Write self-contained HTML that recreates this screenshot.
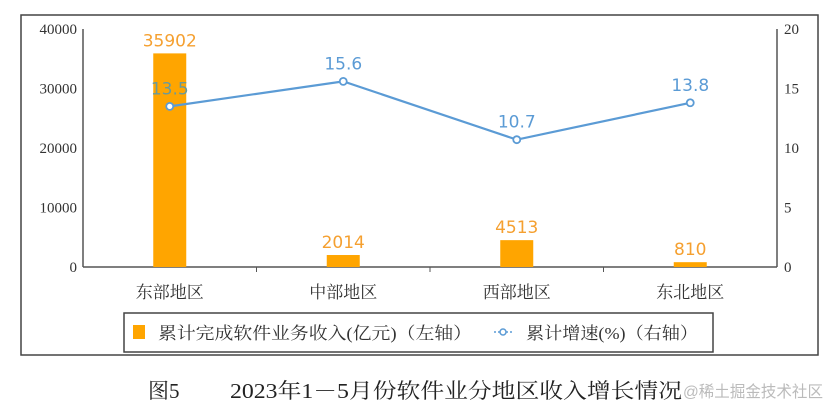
<!DOCTYPE html>
<html><head><meta charset="utf-8"><style>
body{margin:0;background:#fff;width:834px;height:414px;overflow:hidden}
svg{display:block}
</style></head><body>
<svg id="c" width="834" height="414" xmlns="http://www.w3.org/2000/svg">
<rect x="21" y="15" width="797" height="340" fill="none" stroke="#444" stroke-width="1.5"/>
<g id="g"></g>
<g>
<rect x="124" y="313" width="589" height="39" fill="#fff" stroke="#444" stroke-width="1.5"/>
<rect x="133" y="325" width="12" height="14" fill="#FFA500"/>
<text x="158" y="339" font-size="17" fill="#333" textLength="314" lengthAdjust="spacingAndGlyphs" font-family="Liberation Serif, Noto Serif CJK SC, serif">累计完成软件业务收入(亿元)（左轴）</text>
<line x1="494" y1="332" x2="512" y2="332" stroke="#5B9BD5" stroke-width="1.5" stroke-dasharray="2,2"/>
<circle cx="503" cy="332" r="3" fill="#fff" stroke="#5B9BD5" stroke-width="1.5"/>
<text x="526" y="339" font-size="17" fill="#333" textLength="172" lengthAdjust="spacingAndGlyphs" font-family="Liberation Serif, Noto Serif CJK SC, serif">累计增速(%)（右轴）</text>
</g>
<text x="148" y="398" font-size="21" fill="#222" font-family="Liberation Serif, Noto Serif CJK SC, serif">图5</text>
<text x="230" y="398" font-size="21" fill="#222" textLength="452" lengthAdjust="spacingAndGlyphs" font-family="Liberation Serif, Noto Serif CJK SC, serif">2023年1－5月份软件业分地区收入增长情况</text>
<text x="683" y="397" font-size="16" fill="#bbb" textLength="140" lengthAdjust="spacingAndGlyphs" font-family="Liberation Sans, Noto Sans CJK SC, sans-serif">@稀土掘金技术社区</text>
</svg>
<script>
const categories=["东部地区","中部地区","西部地区","东北地区"];
const revenue=[35902,2014,4513,810];
const growth=[13.5,15.6,10.7,13.8];
const leftTicks=[0,10000,20000,30000,40000];
const rightTicks=[0,5,10,15,20];
const NS="http://www.w3.org/2000/svg";
const g=document.getElementById('g');
const X0=83,X1=777,Y0=267,Y1=29;
const band=(X1-X0)/categories.length;
const xc=i=>X0+band*(i+0.5);
const yL=v=>Y0-(v/40000)*(Y0-Y1);
const yR=v=>Y0-(v/20)*(Y0-Y1);
function el(t,a,txt){const e=document.createElementNS(NS,t);for(const k in a)e.setAttribute(k,a[k]);if(txt!=null)e.textContent=txt;g.appendChild(e);return e;}
const serif="Liberation Serif, Noto Serif CJK SC, serif", sans="DejaVu Sans, Liberation Sans, sans-serif";
let e;
e=el('line',{x1:X0,y1:Y1,x2:X0,y2:Y0,stroke:'#555','stroke-width':1.5});


e=el('line',{x1:X1,y1:Y1,x2:X1,y2:Y0,stroke:'#555','stroke-width':1.5});


e=el('line',{x1:X0,y1:Y0,x2:X1,y2:Y0,stroke:'#555','stroke-width':1.5});


for(let i=1;i<categories.length;i++){e=el('line',{x1:X0+band*i,y1:Y0,x2:X0+band*i,y2:Y0+5,stroke:'#555'});

}
leftTicks.forEach(v=>{e=el('text',{x:77,y:yL(v)+5,'text-anchor':'end','font-size':15,fill:'#333','font-family':serif},v);

});
rightTicks.forEach(v=>{e=el('text',{x:784,y:yR(v)+5,'font-size':15,fill:'#333','font-family':serif},v);

});
categories.forEach((c,i)=>{
 e=el('text',{x:xc(i),y:298,'text-anchor':'middle','font-size':17,fill:'#333','font-family':serif},c);
 
 
 e=el('rect',{x:xc(i)-16.5,y:yL(revenue[i]),width:33,height:Y0-yL(revenue[i]),fill:'#FFA500'});
 
 
 e=el('text',{x:xc(i),y:yL(revenue[i])-7,'text-anchor':'middle','font-size':17,fill:'#F5A030','font-family':sans},revenue[i]);
 
 
});
e=el('polyline',{points:growth.map((v,i)=>xc(i)+','+yR(v)).join(' '),fill:'none',stroke:'#5B9BD5','stroke-width':2.2});


growth.forEach((v,i)=>{
 e=el('circle',{cx:xc(i),cy:yR(v),r:3.5,fill:'#fff',stroke:'#5B9BD5','stroke-width':1.8});
 
 
 e=el('text',{x:xc(i),y:yR(v)-12,'text-anchor':'middle','font-size':17,fill:i==0?'#6A9A9A':'#5B9BD5','font-family':sans},v.toFixed(1));
 
 
});
</script>
</body></html>
